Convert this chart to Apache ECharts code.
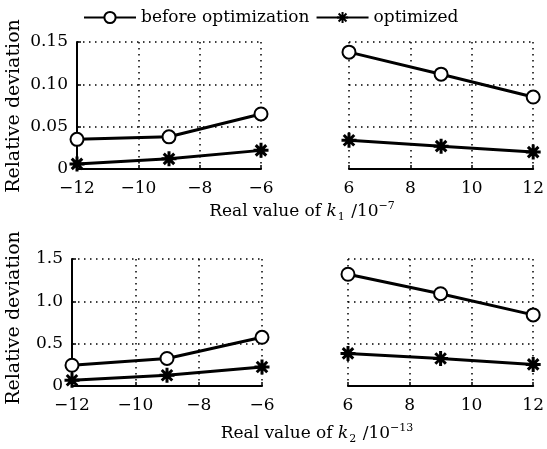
<!DOCTYPE html>
<html>
<head>
<meta charset="utf-8">
<script src="https://cdn.jsdelivr.net/npm/echarts@6/dist/echarts.min.js"></script>
<style>
  html, body { margin: 0; padding: 0; background: #fff; }
  #chart { width: 547px; height: 449px; }
</style>
</head>
<body>
<div id="chart"></div>
<script>
// Sampled parameter values (negative and positive branches)
const kNeg = [-12, -9, -6];
const kPos = [6, 9, 12];

// Relative deviation for k1
const k1BeforeNeg = [0.035, 0.038, 0.065];
const k1OptNeg    = [0.006, 0.012, 0.022];
const k1BeforePos = [0.138, 0.112, 0.085];
const k1OptPos    = [0.034, 0.027, 0.020];

// Relative deviation for k2
const k2BeforeNeg = [0.245, 0.325, 0.575];
const k2OptNeg    = [0.068, 0.127, 0.225];
const k2BeforePos = [1.32, 1.09, 0.84];
const k2OptPos    = [0.385, 0.325, 0.255];

const seriesNames = ['before optimization', 'optimized'];

const FONT = '"DejaVu Serif", serif';
const INK = '#000';
const ASTERISK = 'path://M10,0L10,20M0,10L20,10M3,3L17,17M17,3L3,17';

const dotted = { color: INK, width: 1.5, type: [1.5, 4.5] };

function pairs(xs, ys) { return xs.map((x, i) => [x, ys[i]]); }
const minusFmt = v => String(v).replace('-', '\u2212');

function xAxisFor(grid, min, max) {
  return {
    type: 'value', gridIndex: grid, min: min, max: max, interval: 2,
    axisLine: { show: true, onZero: false, lineStyle: { color: INK, width: 2 } },
    axisTick: { show: true, inside: true, length: 4, lineStyle: { color: INK, width: 1.5 } },
    axisLabel: { color: INK, fontFamily: FONT, fontSize: 17, margin: 11, formatter: minusFmt },
    splitLine: { show: true, lineStyle: dotted }
  };
}
function yAxisFor(grid, max, step, digits, showAxis) {
  return {
    type: 'value', gridIndex: grid, min: 0, max: max, interval: step,
    axisLine: { show: showAxis, lineStyle: { color: INK, width: 2 } },
    axisTick: { show: showAxis, inside: true, length: 4, lineStyle: { color: INK, width: 1.5 } },
    axisLabel: {
      show: showAxis, color: INK, fontFamily: FONT, fontSize: 17, margin: 9,
      formatter: v => v === 0 ? '0' : v.toFixed(digits)
    },
    splitLine: { show: true, lineStyle: dotted }
  };
}

function beforeSeries(idx, xs, ys) {
  return {
    name: seriesNames[0], type: 'line', xAxisIndex: idx, yAxisIndex: idx,
    data: pairs(xs, ys), clip: false, z: 3,
    symbol: 'emptyCircle', symbolSize: 13,
    lineStyle: { color: INK, width: 3 },
    itemStyle: { color: INK, borderColor: INK, borderWidth: 3 }
  };
}
function optSeries(idx, xs, ys) {
  return {
    name: seriesNames[1], type: 'line', xAxisIndex: idx, yAxisIndex: idx,
    data: pairs(xs, ys), clip: false, z: 3,
    symbol: ASTERISK, symbolSize: 15,
    lineStyle: { color: INK, width: 3 },
    itemStyle: { color: INK, borderColor: INK, borderWidth: 3 }
  };
}

function axisTitle(x, y, sub, sup) {
  return {
    type: 'text', x: x, y: y, z: 10,
    style: {
      text: 'Real value of {i|k}{sub|' + sub + '} /10{sup|\u2212' + sup + '}',
      font: '17px ' + FONT, fill: INK, align: 'center', verticalAlign: 'middle',
      rich: {
        i: { fontFamily: FONT, fontSize: 17, fontStyle: 'italic', fill: INK, lineHeight: 22 },
        sub: { fontFamily: FONT, fontSize: 11, fill: INK, verticalAlign: 'bottom', lineHeight: 10, padding: [0, 1, 0, 1] },
        sup: { fontFamily: FONT, fontSize: 11, fill: INK, verticalAlign: 'top', lineHeight: 10 }
      }
    }
  };
}
function yTitle(x, y) {
  return {
    type: 'text', x: x, y: y, rotation: Math.PI / 2, z: 10,
    style: { text: 'Relative deviation', font: '19px ' + FONT, fill: INK, align: 'center', verticalAlign: 'middle' }
  };
}

const option = {
  animation: false,
  backgroundColor: '#fff',
  legend: {
    data: seriesNames, left: 83, top: 9, padding: 0, itemWidth: 52, itemHeight: 14, itemGap: 6,
    textStyle: { color: INK, fontFamily: FONT, fontSize: 17 }
  },
  grid: [
    { left: 77, top: 42, width: 184, height: 127 },
    { left: 349, top: 42, width: 185, height: 127 },
    { left: 72, top: 259, width: 190, height: 127 },
    { left: 348, top: 259, width: 187, height: 127 }
  ],
  xAxis: [
    xAxisFor(0, -12, -6), xAxisFor(1, 6, 12),
    xAxisFor(2, -12, -6), xAxisFor(3, 6, 12)
  ],
  yAxis: [
    yAxisFor(0, 0.15, 0.05, 2, true), yAxisFor(1, 0.15, 0.05, 2, false),
    yAxisFor(2, 1.5, 0.5, 1, true), yAxisFor(3, 1.5, 0.5, 1, false)
  ],
  series: [
    beforeSeries(0, kNeg, k1BeforeNeg), optSeries(0, kNeg, k1OptNeg),
    beforeSeries(1, kPos, k1BeforePos), optSeries(1, kPos, k1OptPos),
    beforeSeries(2, kNeg, k2BeforeNeg), optSeries(2, kNeg, k2OptNeg),
    beforeSeries(3, kPos, k2BeforePos), optSeries(3, kPos, k2OptPos)
  ],
  graphic: [
    yTitle(14, 106), yTitle(14, 318),
    axisTitle(302, 212, '1', '7'),
    axisTitle(317, 434, '2', '13')
  ]
};

const chart = echarts.init(document.getElementById('chart'), null, { renderer: 'canvas' });
chart.setOption(option);
</script>
</body>
</html>
